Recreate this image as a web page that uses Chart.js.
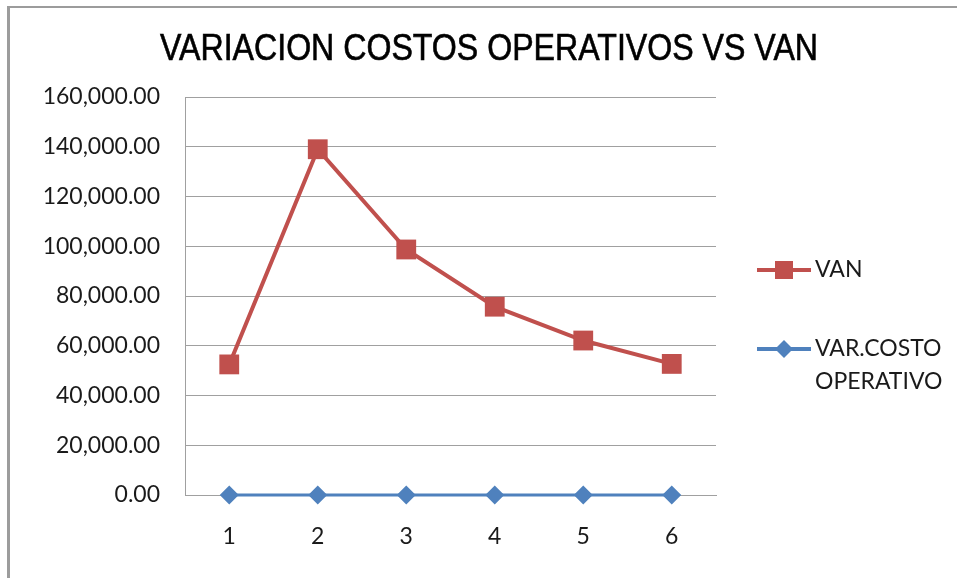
<!DOCTYPE html>
<html>
<head>
<meta charset="utf-8">
<script src="https://cdn.jsdelivr.net/npm/chart.js@4.4.1/dist/chart.umd.min.js"></script>
<style>
html, body { margin: 0; padding: 0; background: #fff; }
#marco { position: absolute; left: 0; top: 0; width: 957px; height: 578px; overflow: hidden; }
#borde { position: absolute; left: 7px; top: 6px; right: -10px; bottom: -10px; border-left: 3px solid #9c9c9c; border-top: 2px solid #9c9c9c; }
canvas { position: absolute; left: 0; top: 0; }
</style>
</head>
<body>
<div id="marco">
    <div id="borde"></div>
    <canvas id="grafico" width="957" height="578"></canvas>
</div>
<script>
const titulo = "VARIACION COSTOS OPERATIVOS VS VAN";
const periodos = ["1", "2", "3", "4", "5", "6"];
const valoresVan = [52500, 139000, 98700, 75700, 62100, 52700];
const valoresVarCosto = [0, 0, 0, 0, 0, 0];
const ticksY = [0, 20000, 40000, 60000, 80000, 100000, 120000, 140000, 160000];
const etiquetasLeyenda = [["VAN"], ["VAR.COSTO", "OPERATIVO"]];

const fuente = "Lato, 'Open Sans', sans-serif";

function formatoNumero(v) {
    return v.toLocaleString("en-US", { minimumFractionDigits: 2, maximumFractionDigits: 2 });
}

// dibuja el titulo y la leyenda a mano
const tituloYLeyenda = {
    id: "tituloYLeyenda",
    afterDraw(chart) {
        const ctx = chart.ctx;
        ctx.save();
        ctx.font = "36px 'Liberation Sans Narrow', 'Liberation Sans', Arial, sans-serif";
        ctx.fillStyle = "#000";
        ctx.strokeStyle = "#000";
        ctx.lineWidth = 0.6;
        ctx.textAlign = "center";
        ctx.textBaseline = "alphabetic";
        const ancho = ctx.measureText(titulo).width;
        ctx.translate(489, 60);
        ctx.scale(658 / ancho, 1);
        ctx.fillText(titulo, 0, 0);
        ctx.strokeText(titulo, 0, 0);
        ctx.restore();

        const posY = [270, 349];
        chart.data.datasets.forEach((ds, i) => {
            const y = posY[i];
            ctx.save();
            ctx.strokeStyle = ds.borderColor;
            ctx.lineWidth = 4;
            ctx.beginPath();
            ctx.moveTo(757, y);
            ctx.lineTo(811, y);
            ctx.stroke();
            ctx.fillStyle = ds.backgroundColor;
            ctx.beginPath();
            if (ds.pointStyle === "rect") {
                ctx.rect(775, y - 9, 18, 18);
            } else {
                ctx.moveTo(784, y - 9);
                ctx.lineTo(793, y);
                ctx.lineTo(784, y + 9);
                ctx.lineTo(775, y);
                ctx.closePath();
            }
            ctx.fill();
            ctx.fillStyle = "#1a1a1a";
            ctx.font = "23px " + fuente;
            ctx.textAlign = "left";
            ctx.textBaseline = "middle";
            etiquetasLeyenda[i].forEach((linea, j) => {
                ctx.fillText(linea, 815, y + j * 33);
            });
            ctx.restore();
        });
    }
};

const ctx = document.getElementById("grafico");
new Chart(ctx, {
    type: "line",
    data: {
        labels: periodos,
        datasets: [{
            label: "VAN",
            data: valoresVan,
            borderColor: "#C0504D",
            backgroundColor: "#C0504D",
            borderWidth: 4,
            pointStyle: "rect",
            pointRadius: 14,
            pointBorderWidth: 0,
            tension: 0,
            clip: false
        }, {
            label: "VAR.COSTO OPERATIVO",
            data: valoresVarCosto,
            borderColor: "#4F81BD",
            backgroundColor: "#4F81BD",
            borderWidth: 3,
            pointStyle: "rectRot",
            pointRadius: 9.5,
            pointBorderWidth: 0,
            tension: 0,
            clip: false
        }]
    },
    options: {
        responsive: false,
        animation: false,
        layout: {
            padding: { top: 97, left: 20, right: 241, bottom: 0 }
        },
        plugins: {
            legend: { display: false },
            title: { display: false },
            tooltip: { enabled: false }
        },
        scales: {
            x: {
                offset: true,
                grid: { display: false, drawTicks: false },
                border: { color: "#a0a0a0", width: 1 },
                ticks: {
                    color: "#1a1a1a",
                    font: { family: fuente, size: 23 },
                    padding: 28
                },
                afterFit(scale) { scale.height = 83; }
            },
            y: {
                min: 0,
                max: 160000,
                afterBuildTicks(scale) {
                    scale.ticks = ticksY.map(v => ({ value: v }));
                },
                grid: { color: "#a0a0a0", lineWidth: 1, drawTicks: false },
                border: { color: "#a0a0a0", width: 1 },
                ticks: {
                    color: "#1a1a1a",
                    font: { family: fuente, size: 23 },
                    padding: 25,
                    callback: v => formatoNumero(v)
                },
                afterFit(scale) { scale.width = 165; }
            }
        }
    },
    plugins: [tituloYLeyenda]
});
</script>
</body>
</html>
